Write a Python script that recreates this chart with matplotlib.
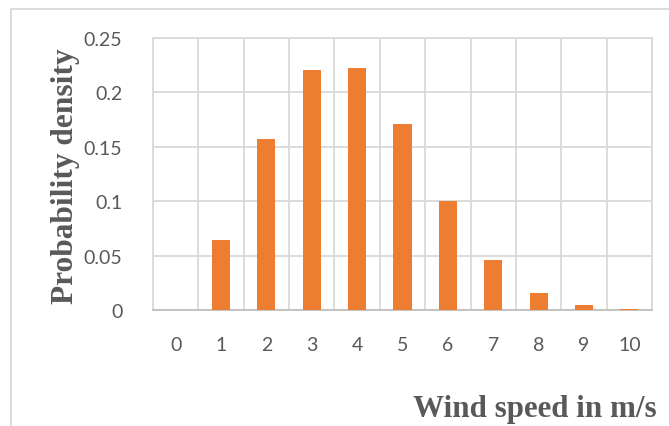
import matplotlib.pyplot as plt
from matplotlib.patches import Rectangle
import numpy as np

# wind speed bins and probability density
wind_speed = [0, 1, 2, 3, 4, 5, 6, 7, 8, 9, 10]
density = [0.0, 0.064, 0.157, 0.2203, 0.2224, 0.1705, 0.1006, 0.0456, 0.0156, 0.005, 0.0008]
y_ticks = [0, 0.05, 0.1, 0.15, 0.2, 0.25]
y_tick_labels = ["0", "0.05", "0.1", "0.15", "0.2", "0.25"]

bar_color = "#ED7D31"
grid_color = "#D9D9D9"
text_color = "#595959"

fig = plt.figure(figsize=(6.69, 4.27), dpi=100)
ax = fig.add_axes([153 / 669, 1 - 311 / 427, (652 - 153) / 669, (311 - 39) / 427])

x = np.arange(len(wind_speed))
ax.bar(x, density, width=0.4, color=bar_color, zorder=3)

ax.set_xlim(-0.5, len(wind_speed) - 0.5)
ax.set_ylim(0, 0.25)
ax.set_xticks(x)
ax.set_xticklabels([str(v) for v in wind_speed])
ax.set_yticks(y_ticks)
ax.set_yticklabels(y_tick_labels)

# grid: horizontal at ticks, vertical between categories
for yv in y_ticks:
    ax.axhline(yv, color=grid_color, lw=1.3, zorder=1)
for xv in np.arange(-0.5, len(wind_speed), 1.0):
    ax.axvline(xv, color=grid_color, lw=1.3, zorder=1)

for s in ax.spines.values():
    s.set_color(grid_color)
    s.set_linewidth(1.3)
ax.spines["bottom"].set_color("#BFBFBF")

ax.tick_params(length=0, labelsize=14, labelcolor=text_color, pad=22)
ax.tick_params(axis="x", pad=19)
for lab in ax.get_xticklabels() + ax.get_yticklabels():
    lab.set_family("Lato")

fig.text(66 / 669, 1 - 176 / 427, "Probability density", rotation=90,
         ha="center", va="center", fontsize=22.6, fontweight="bold",
         family="Liberation Serif", color=text_color)
fig.text(535 / 669, 1 - 410 / 427, "Wind speed in m/s",
         ha="center", va="center", fontsize=22.3, fontweight="bold",
         family="Liberation Serif", color=text_color)

# outer chart-area border (cropped on the right and bottom)
fig.add_artist(Rectangle((11 / 669, -0.1), 2.0, 1 - 10 / 427 + 0.1,
                         transform=fig.transFigure, fill=False,
                         ec=grid_color, lw=1.3))

fig.savefig("out.png", dpi=100)
